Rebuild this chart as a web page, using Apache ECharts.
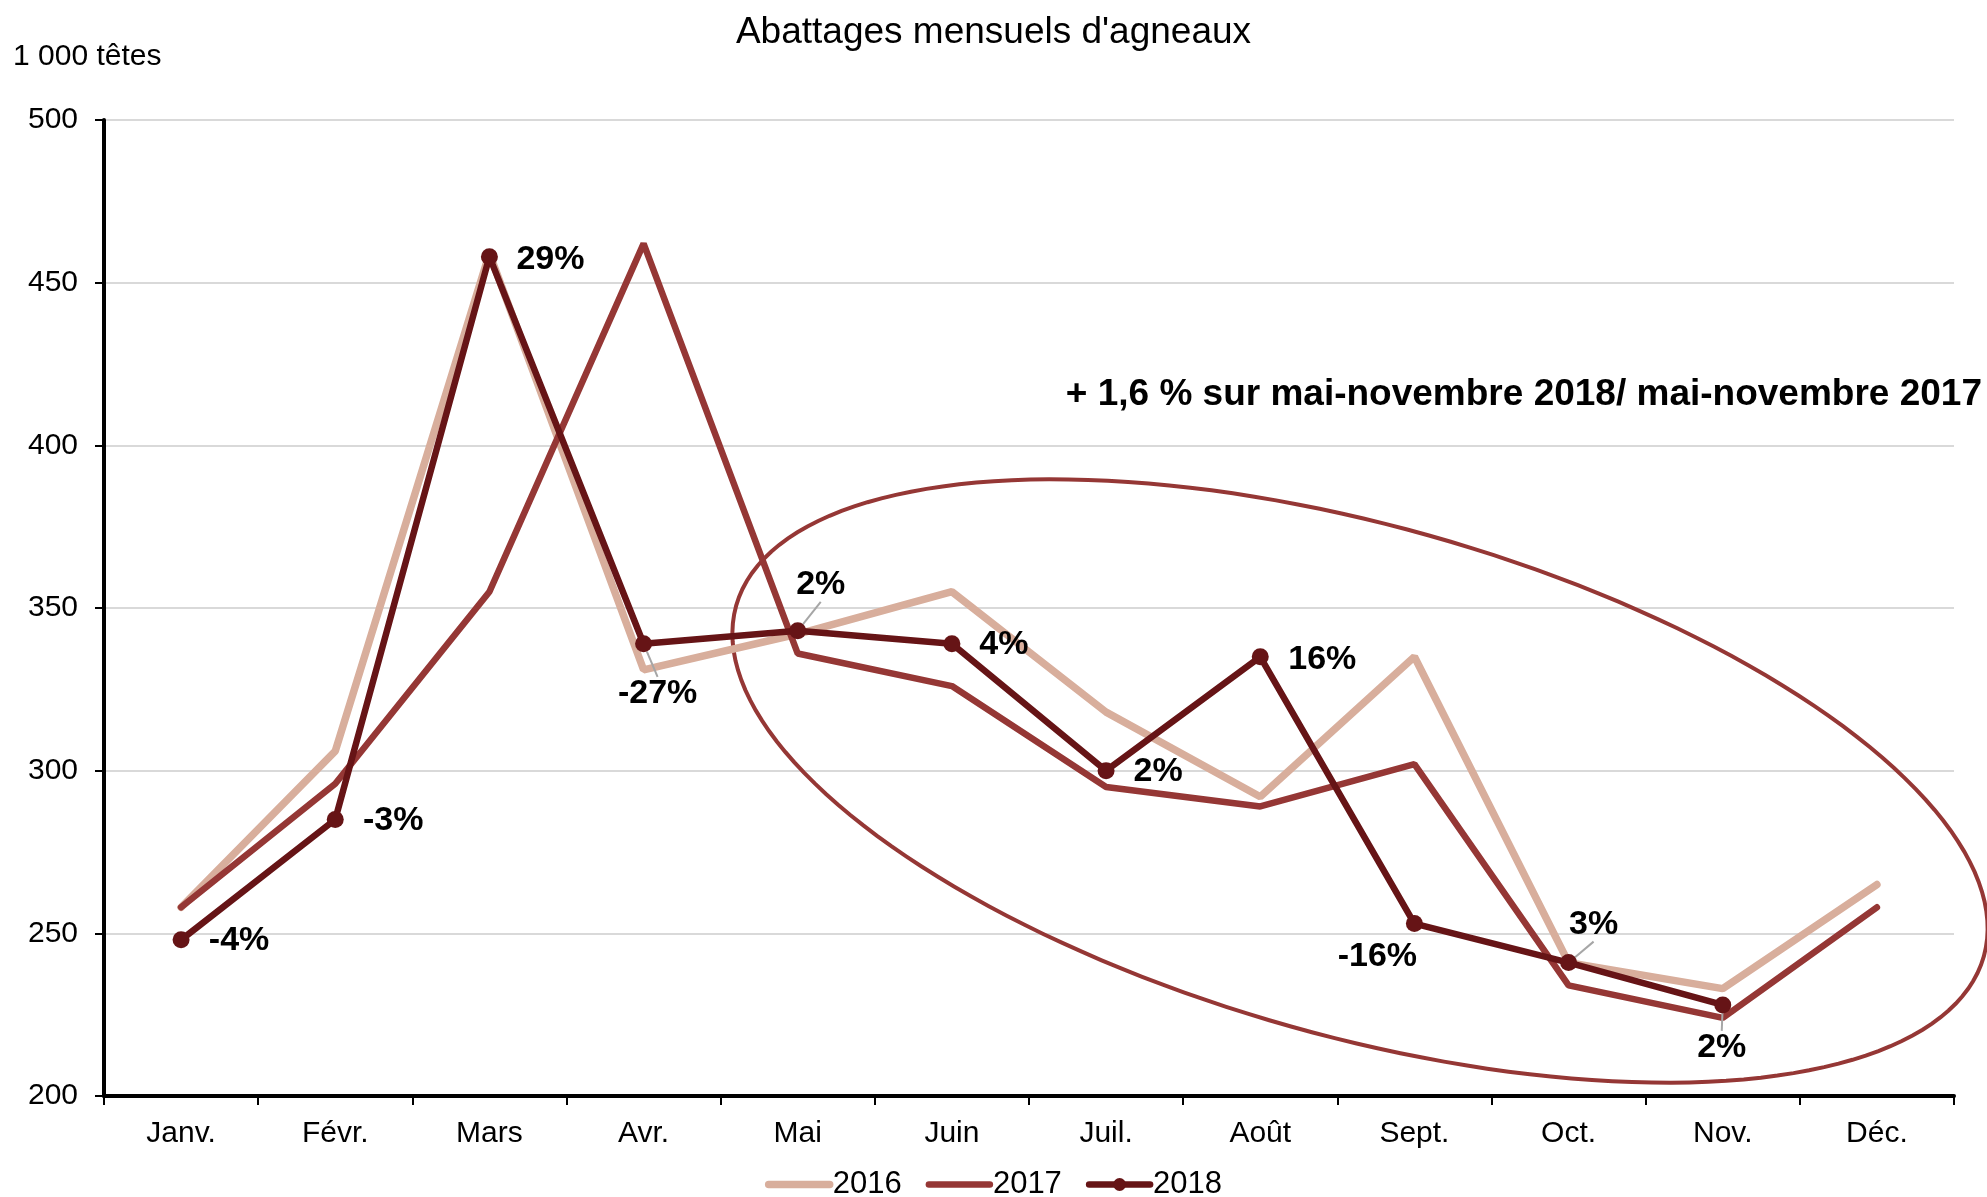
<!DOCTYPE html>
<html>
<head>
<meta charset="utf-8">
<script src="https://cdn.jsdelivr.net/npm/echarts@6/dist/echarts.min.js"></script>
<style>
html,body{margin:0;padding:0;background:#fff;}
#chart{width:1987px;height:1197px;}
</style>
</head>
<body>
<div id="chart"></div>
<script>
const categories = ['Janv.', 'Févr.', 'Mars', 'Avr.', 'Mai', 'Juin', 'Juil.', 'Août', 'Sept.', 'Oct.', 'Nov.', 'Déc.'];
const values2016 = [258, 306, 459, 331, 342, 355, 318, 292, 335, 241, 233, 265];
const values2017 = [258, 296, 355, 462, 336, 326, 295, 289, 302, 234, 224, 258];
const values2018 = [248, 285, 458, 339, 343, 339, 300, 335, 253, 241, 228, null];
const labels2018 = ['-4%', '-3%', '29%', '-27%', '2%', '4%', '2%', '16%', '-16%', '3%', '2%'];
const yTicks = [200, 250, 300, 350, 400, 450, 500];

// label placement (style only)
const labelOffsets = [[58, 1], [58, 1], [61, 3], [14, 50], [23, -46], [52, 1], [52, 1], [62, 3], [-37, 33], [25, -38], [-1, 43]];
const leaderIdx = [3, 4, 9, 10];

const FONT = 'Liberation Sans, Arial, sans-serif';
const C2016 = '#D8AE9C';
const C2017 = '#953735';
const C2018 = '#661416';

// decorative ellipse (pixel space)
const ell = { cx: 1360, cy: 781, a: 648, b: 255, rot: 15.7 };
const ellPts = [];
for (let i = 0; i <= 180; i++) {
  const t = i / 180 * Math.PI * 2;
  const th = ell.rot * Math.PI / 180;
  const x = ell.a * Math.cos(t), y = ell.b * Math.sin(t);
  ellPts.push([ell.cx + x * Math.cos(th) - y * Math.sin(th), ell.cy + x * Math.sin(th) + y * Math.cos(th)]);
}

const chart = echarts.init(document.getElementById('chart'));
const data2018 = values2018.map((v, i) => {
  const item = { value: v };
  if (i < labels2018.length) {
    item.label = { formatter: labels2018[i] };
    item.labelLine = { show: leaderIdx.indexOf(i) >= 0 };
  }
  return item;
});

chart.setOption({
  animation: false,
  textStyle: { fontFamily: FONT },
  title: {
    text: "Abattages mensuels d'agneaux",
    left: 'center', top: 9,
    textStyle: { fontFamily: FONT, fontSize: 37, fontWeight: 'normal', color: '#000' }
  },
  grid: { left: 104, right: 33, top: 120, bottom: 101, containLabel: false },
  legend: {
    bottom: -8, left: 'center',
    itemWidth: 61, itemHeight: 16, itemGap: 24,
    lineStyle: { width: 'inherit', cap: 'round' },
    textStyle: { fontFamily: FONT, fontSize: 31, color: '#000', padding: [0, 0, 0, -2] },
    data: [
      { name: '2016', itemStyle: { opacity: 0 } },
      { name: '2017', itemStyle: { opacity: 0 } },
      { name: '2018' }
    ]
  },
  xAxis: {
    type: 'category', data: categories, boundaryGap: true,
    axisLine: { lineStyle: { color: '#000', width: 4 } },
    axisTick: { show: true, length: 9, lineStyle: { color: '#000', width: 2 } },
    axisLabel: { fontFamily: FONT, fontSize: 30, color: '#000', margin: 23 }
  },
  yAxis: {
    type: 'value', min: yTicks[0], max: yTicks[yTicks.length - 1], interval: 50,
    axisLine: { show: true, lineStyle: { color: '#000', width: 4 } },
    axisTick: { show: true, length: 9, lineStyle: { color: '#000', width: 2 } },
    axisLabel: { fontFamily: FONT, fontSize: 30, color: '#000', margin: 26 },
    splitLine: { lineStyle: { color: '#D9D9D9', width: 2 } }
  },
  graphic: [
    { type: 'text', left: 13, top: 42, style: { text: '1 000 têtes', font: '30px ' + FONT, fill: '#000' } },
    { type: 'text', x: 1982, y: 395, style: { text: '+ 1,6 % sur mai-novembre 2018/ mai-novembre 2017', font: 'bold 37px ' + FONT, fill: '#000', textAlign: 'right', textVerticalAlign: 'middle' } },
    { type: 'polygon', z: 1, shape: { points: ellPts }, style: { fill: 'none', stroke: C2017, lineWidth: 4 } }
  ],
  series: [
    {
      name: '2016', type: 'line', data: values2016, symbol: 'none', z: 2,
      lineStyle: { color: C2016, width: 7.5, cap: 'round' }, itemStyle: { color: C2016 }
    },
    {
      name: '2017', type: 'line', data: values2017, symbol: 'none', z: 3,
      lineStyle: { color: C2017, width: 6.5, cap: 'round' }, itemStyle: { color: C2017 }
    },
    {
      name: '2018', type: 'line', data: data2018, symbol: 'circle', symbolSize: 17, z: 4,
      lineStyle: { color: C2018, width: 6.5 }, itemStyle: { color: C2018 },
      label: { show: true, position: 'inside', fontFamily: FONT, fontSize: 34, fontWeight: 'bold', color: '#000' },
      labelLine: { show: false, lineStyle: { color: '#A6A6A6', width: 2 } },
      labelLayout: function (p) {
        const o = labelOffsets[p.dataIndex] || [0, 0];
        return { dx: o[0], dy: o[1] };
      }
    }
  ]
});
</script>
</body>
</html>
